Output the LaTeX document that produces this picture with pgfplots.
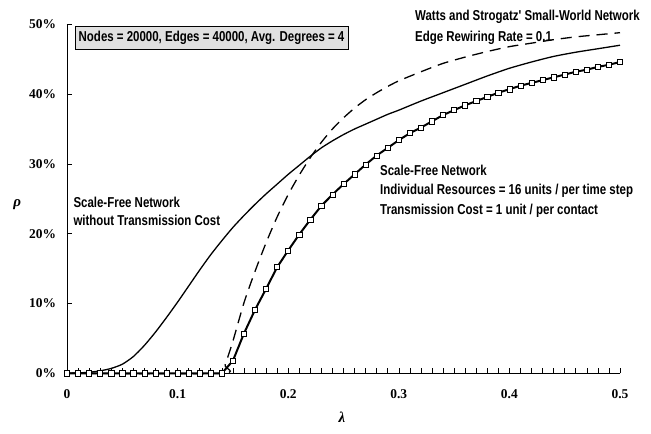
\documentclass[border=0pt]{standalone}
\usepackage{fontspec}
\usepackage{pgfplots}
\pgfplotsset{compat=1.18}
\newfontfamily\annot[FakeStretch=0.8]{Liberation Sans}
\newfontfamily\tnr{Liberation Serif}
\begin{document}
\begin{tikzpicture}
\begin{axis}[
  name=ax,
  scale only axis,
  width=553bp, height=349bp,
  xmin=0, xmax=0.5, ymin=0, ymax=50,
  axis lines=left,
  axis line style={-, line width=0.8pt},
  clip=false,
  xtick={0,0.1,0.2,0.3,0.4,0.5},
  xticklabels={0,0.1,0.2,0.3,0.4,0.5},
  minor x tick num=9,
  ytick={0,10,20,30,40,50},
  yticklabels={0\%,10\%,20\%,30\%,40\%,50\%},
  tick align=inside,
  major tick length=5bp, minor tick length=5bp,
  tick style={line width=0.6pt, black},
  ticklabel style={font=\tnr\bfseries\fontsize{13.5}{13.5}\selectfont},
  xticklabel style={yshift=-13bp},
  yticklabel style={xshift=-7.5bp},
  xlabel={\tnr\bfseries\itshape\fontsize{15}{15}\selectfont λ},
  ylabel={\tnr\bfseries\itshape\fontsize{15}{15}\selectfont ρ},
  xlabel style={at={(rel axis cs:0.497,-0.125)}, anchor=center},
  ylabel style={rotate=-90, at={(rel axis cs:-0.09,0.484)}, anchor=center},
]
% Scale-free without transmission cost
\addplot[black, line width=1.3pt, smooth, tension=0.4] coordinates {
(0,0) (0.01,0.05) (0.02,0.15) (0.03,0.35) (0.04,0.7) (0.05,1.3) (0.06,2.4)
(0.07,4.0) (0.08,5.9) (0.09,8.0) (0.10,10.2) (0.11,12.5) (0.12,14.8)
(0.13,17.0) (0.14,19.0) (0.15,20.9) (0.16,22.6) (0.17,24.2) (0.18,25.7)
(0.19,27.1) (0.20,28.5) (0.21,29.8) (0.22,31.1) (0.23,32.3) (0.24,33.3)
(0.25,34.2) (0.26,35.0) (0.27,35.7) (0.28,36.4) (0.29,37.1) (0.30,37.7)
(0.32,39.0) (0.34,40.2) (0.36,41.4) (0.38,42.6) (0.40,43.7) (0.42,44.6)
(0.44,45.4) (0.46,46.0) (0.48,46.5) (0.50,47.0)
};
% Watts-Strogatz
\addplot[black, line width=1.3pt, dash pattern=on 11bp off 7bp, smooth, tension=0.4] coordinates {
(0,0) (0.14,0) (0.143,1.2) (0.15,4.6) (0.16,10.1) (0.17,14.6) (0.18,18.7)
(0.19,22.4) (0.20,25.6) (0.21,28.4) (0.22,30.9) (0.23,33.1) (0.24,35.0)
(0.25,36.6) (0.26,38.0) (0.27,39.2) (0.28,40.2) (0.29,41.1) (0.30,41.9)
(0.32,43.2) (0.34,44.4) (0.36,45.3) (0.38,46.1) (0.40,46.8) (0.42,47.3)
(0.44,47.8) (0.46,48.2) (0.48,48.5) (0.50,48.8)
};
% Scale-free with transmission cost
\addplot[black, line width=2pt, mark=square*, mark size=2.6pt,
  mark options={fill=white, draw=black, line width=0.6pt}] coordinates {
(0,0) (0.01,0) (0.02,0) (0.03,0) (0.04,0) (0.05,0) (0.06,0) (0.07,0)
(0.08,0) (0.09,0) (0.10,0) (0.11,0) (0.12,0) (0.13,0) (0.14,0)
(0.15,1.8) (0.16,5.7) (0.17,9.1) (0.18,12.1) (0.19,15.2) (0.20,17.6)
(0.21,19.9) (0.22,22.0) (0.23,24.0) (0.24,25.6) (0.25,27.1) (0.26,28.5)
(0.27,29.9) (0.28,31.2) (0.29,32.3) (0.30,33.4) (0.31,34.4) (0.32,35.2)
(0.33,36.1) (0.34,37.0) (0.35,37.7) (0.36,38.4) (0.37,39.0) (0.38,39.6)
(0.39,40.2) (0.40,40.7) (0.41,41.2) (0.42,41.6) (0.43,42.0) (0.44,42.4)
(0.45,42.8) (0.46,43.2) (0.47,43.5) (0.48,43.9) (0.49,44.2) (0.50,44.6)
};
% annotations
\node[draw=black, line width=0.6pt, fill=black!12, minimum width=273bp, minimum height=23bp, inner sep=0pt,
  font=\annot\bfseries\fontsize{14.4}{14.4}\selectfont] at (axis cs:0.1307,48.1)
  {Nodes = 20000, Edges = 40000, Avg. Degrees = 4};
\node[anchor=north west, inner sep=0pt, align=left,
  font=\annot\bfseries\fontsize{14.4}{20.7}\selectfont] at (axis cs:0.3146,52.0)
  {Watts and Strogatz' Small-World Network\\Edge Rewiring Rate = 0.1};
\node[anchor=north west, inner sep=0pt, align=left,
  font=\annot\bfseries\fontsize{14.4}{18.5}\selectfont] at (axis cs:0.0057,25.33)
  {Scale-Free Network\\without Transmission Cost};
\node[anchor=north west, inner sep=0pt, align=left,
  font=\annot\bfseries\fontsize{14.4}{19.5}\selectfont] at (axis cs:0.283,29.87)
  {Scale-Free Network\\Individual Resources = 16 units / per time step\\Transmission Cost = 1 unit / per contact};
\end{axis}
\pgfresetboundingbox
\path[use as bounding box] ([shift={(-67bp,-60.7bp)}]ax.south west) rectangle ([shift={(584bp,373.3bp)}]ax.south west);
\end{tikzpicture}
\end{document}
